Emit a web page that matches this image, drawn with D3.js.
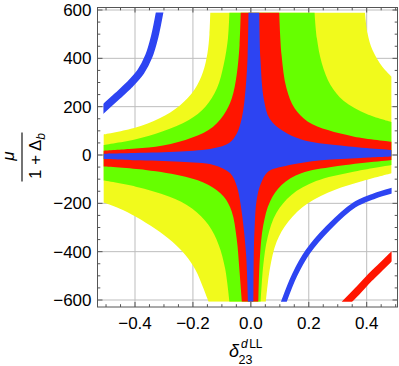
<!DOCTYPE html>
<html>
<head>
<meta charset="utf-8">
<script src="https://cdn.jsdelivr.net/npm/d3@7"></script>
<style>
  body { margin: 0; background: #fff; }
  text { font-family: "Liberation Sans", Arial, sans-serif; fill: #000; }
</style>
</head>
<body>
<script>
// tick values
var xTicks = [-0.4, -0.2, 0, 0.2, 0.4];
var yTicks = [-600, -400, -200, 0, 200, 400, 600];
var xMinor = d3.range(-10, 11).map(function(i) { return i * 0.05; });
var yMinor = d3.range(-12, 13).map(function(i) { return i * 50; });

var regionX = [-0.509, 0.486];
var regionY = [-607, 590];

// band boundaries, one curve per quadrant: top-left, bottom-left, bottom-right, top-right
var yellowEdge = [
  [[-0.140, 590], [-0.143, 500], [-0.150, 420], [-0.165, 345], [-0.195, 270], [-0.245, 205], [-0.315, 152], [-0.40, 113], [-0.509, 85]],
  [[-0.509, -197], [-0.454, -221], [-0.397, -255], [-0.329, -306], [-0.271, -359], [-0.226, -414], [-0.191, -476], [-0.166, -545], [-0.146, -607]],
  [[0.052, -607], [0.066, -469], [0.089, -359], [0.129, -276], [0.197, -200], [0.289, -145], [0.380, -110], [0.486, -76]],
  [[0.486, 324], [0.454, 365], [0.420, 434], [0.403, 503], [0.394, 590]]
];
var greenEdge = [
  [[-0.074, 590], [-0.079, 483], [-0.094, 372], [-0.117, 276], [-0.157, 200], [-0.214, 145], [-0.306, 97], [-0.397, 65], [-0.509, 41]],
  [[-0.509, -106], [-0.397, -131], [-0.283, -172], [-0.203, -221], [-0.146, -290], [-0.111, -372], [-0.089, -469], [-0.074, -607]],
  [[0.034, -607], [0.043, -455], [0.058, -340], [0.088, -240], [0.140, -165], [0.225, -108], [0.350, -70], [0.486, -41]],
  [[0.486, 137], [0.40, 170], [0.32, 225], [0.275, 290], [0.245, 380], [0.228, 483], [0.220, 590]]
];
var redEdge = [
  [[-0.035, 590], [-0.039, 455], [-0.049, 331], [-0.066, 234], [-0.094, 166], [-0.146, 103], [-0.226, 62], [-0.329, 34], [-0.420, 25], [-0.509, 18]],
  [[-0.509, -48], [-0.363, -62], [-0.226, -90], [-0.146, -124], [-0.094, -172], [-0.066, -234], [-0.049, -345], [-0.039, -483], [-0.031, -607]],
  [[0.026, -607], [0.031, -428], [0.043, -290], [0.066, -193], [0.106, -124], [0.174, -76], [0.289, -48], [0.486, -21]],
  [[0.486, 55], [0.357, 76], [0.266, 103], [0.197, 138], [0.151, 193], [0.123, 276], [0.106, 414], [0.098, 590]]
];
var blueEdge = [
  [[-0.008, 590], [-0.011, 414], [-0.018, 276], [-0.030, 160], [-0.048, 90], [-0.075, 50], [-0.129, 28], [-0.243, 14], [-0.40, 8], [-0.509, 5]],
  [[-0.509, -17], [-0.40, -22], [-0.243, -28], [-0.129, -41], [-0.071, -76], [-0.048, -131], [-0.036, -200], [-0.025, -300], [-0.016, -420], [-0.010, -607]],
  [[0.009, -607], [0.010, -420], [0.013, -300], [0.020, -186], [0.035, -117], [0.060, -68], [0.120, -45], [0.243, -22], [0.38, -12], [0.486, -6]],
  [[0.486, 20], [0.30, 40], [0.18, 62], [0.11, 100], [0.065, 150], [0.045, 230], [0.033, 400], [0.029, 590]]
];

// thin separate bands
var blueArcTL = [[-0.509, 192], [-0.46, 245], [-0.42, 290], [-0.38, 345], [-0.352, 410], [-0.332, 490], [-0.315, 590]];
var blueArcBR = [[0.114, -607], [0.151, -497], [0.197, -400], [0.266, -303], [0.357, -207], [0.426, -170], [0.486, -148]];
var redArcBR = [[0.332, -607], [0.370, -560], [0.409, -510], [0.450, -462], [0.486, -420]];

var svgWidth = 399, svgHeight = 366;
var frame = { left: 97.5, right: 397.5, top: 7.5, bottom: 307 };

var svg = d3.select("body").append("svg")
  .attr("width", svgWidth)
  .attr("height", svgHeight);

var x = d3.scaleLinear().domain([-0.4, 0.4]).range([135, 366.7]);
var y = d3.scaleLinear().domain([-600, 600]).range([300, 10]);

// grid lines
var grid = svg.append("g").attr("stroke", "#bdbdbd").attr("stroke-width", 1);
grid.selectAll(".gx").data(xTicks).enter().append("line")
  .attr("x1", d => x(d)).attr("x2", d => x(d))
  .attr("y1", frame.top).attr("y2", frame.bottom);
grid.selectAll(".gy").data(yTicks).enter().append("line")
  .attr("y1", d => y(d)).attr("y2", d => y(d))
  .attr("x1", frame.left).attr("x2", frame.right);

// clip to the sampled rectangle
svg.append("clipPath").attr("id", "reg").append("rect")
  .attr("x", x(regionX[0])).attr("y", y(regionY[1]))
  .attr("width", x(regionX[1]) - x(regionX[0]))
  .attr("height", y(regionY[0]) - y(regionY[1]));

var curve = d3.line()
  .x(d => x(d[0]))
  .y(d => y(d[1]))
  .curve(d3.curveCatmullRom.alpha(0.5));

// join the four quadrant curves into one closed shape
function bandPath(quads) {
  return quads.map(function(pts, i) {
    var d = curve(pts);
    return i ? "L" + d.slice(1) : d;
  }).join("") + "Z";
}

var levels = [
  { edge: yellowEdge, color: "#f1fa1c" },
  { edge: greenEdge, color: "#66ff00" },
  { edge: redEdge, color: "#ff1500" },
  { edge: blueEdge, color: "#2d44f2" }
];

var regions = svg.append("g").attr("clip-path", "url(#reg)");
regions.selectAll("path.band").data(levels).enter().append("path")
  .attr("class", "band")
  .attr("d", d => bandPath(d.edge))
  .attr("fill", d => d.color);

var arcs = [
  { pts: blueArcTL, color: "#2d44f2", w: 7.5 },
  { pts: blueArcBR, color: "#2d44f2", w: 5.5 },
  { pts: redArcBR, color: "#ff1500", w: 7.5 }
];
regions.selectAll("path.arc").data(arcs).enter().append("path")
  .attr("class", "arc")
  .attr("d", d => curve(d.pts))
  .attr("fill", "none")
  .attr("stroke", d => d.color)
  .attr("stroke-width", d => d.w)
  .attr("stroke-linecap", "square");

// frame with inward ticks on all sides
var fr = svg.append("g").attr("stroke", "#555").attr("stroke-width", 1).attr("fill", "none");
fr.append("rect")
  .attr("x", frame.left).attr("y", frame.top)
  .attr("width", frame.right - frame.left)
  .attr("height", frame.bottom - frame.top);

function isMajorX(v) { return Math.abs(v * 5 - Math.round(v * 5)) < 1e-6; }
function isMajorY(v) { return v % 200 === 0; }

xMinor.forEach(function(v) {
  var len = isMajorX(v) ? 5 : 2.8;
  fr.append("line").attr("x1", x(v)).attr("x2", x(v)).attr("y1", frame.bottom).attr("y2", frame.bottom - len);
  fr.append("line").attr("x1", x(v)).attr("x2", x(v)).attr("y1", frame.top).attr("y2", frame.top + len);
});
yMinor.forEach(function(v) {
  var len = isMajorY(v) ? 5 : 2.8;
  fr.append("line").attr("y1", y(v)).attr("y2", y(v)).attr("x1", frame.left).attr("x2", frame.left + len);
  fr.append("line").attr("y1", y(v)).attr("y2", y(v)).attr("x1", frame.right).attr("x2", frame.right - len);
});

// tick labels
var fmtX = function(v) { return (v < 0 ? "\u2212" : "") + Math.abs(v).toFixed(1); };
var fmtY = function(v) { return (v < 0 ? "\u2212" : "") + Math.abs(v); };

svg.selectAll(".xl").data(xTicks).enter().append("text")
  .attr("x", d => x(d)).attr("y", 328.5)
  .attr("text-anchor", "middle")
  .attr("font-size", 17)
  .text(fmtX);

svg.selectAll(".yl").data(yTicks).enter().append("text")
  .attr("x", 91.5).attr("y", d => y(d))
  .attr("dy", "0.36em")
  .attr("text-anchor", "end")
  .attr("font-size", 17)
  .text(fmtY);

// x axis title: delta_23^dLL
var xt = svg.append("g");
xt.append("text").attr("x", 229).attr("y", 357).attr("font-size", 18)
  .attr("font-style", "italic").text("\u03b4");
xt.append("text").attr("x", 238.5).attr("y", 363.5).attr("font-size", 12.5).text("23");
xt.append("text").attr("x", 241).attr("y", 348).attr("font-size", 12)
  .html('<tspan font-style="italic">d</tspan><tspan dx="1.5">LL</tspan>');

// y axis title: mu / (1 + Delta_b)
var yt = svg.append("g").attr("transform", "translate(0,157) rotate(-90)");
yt.append("text").attr("x", 1).attr("y", 14).attr("text-anchor", "middle")
  .attr("font-size", 17).attr("font-style", "italic").text("\u03bc");
yt.append("line").attr("x1", -24.5).attr("x2", 24.5).attr("y1", 22).attr("y2", 22)
  .attr("stroke", "#000").attr("stroke-width", 1.1);
yt.append("text").attr("x", 1).attr("y", 40.5).attr("text-anchor", "middle")
  .attr("font-size", 17)
  .html('1 + \u0394<tspan font-size="12" font-style="italic" dy="4">b</tspan>');
</script>
</body>
</html>
